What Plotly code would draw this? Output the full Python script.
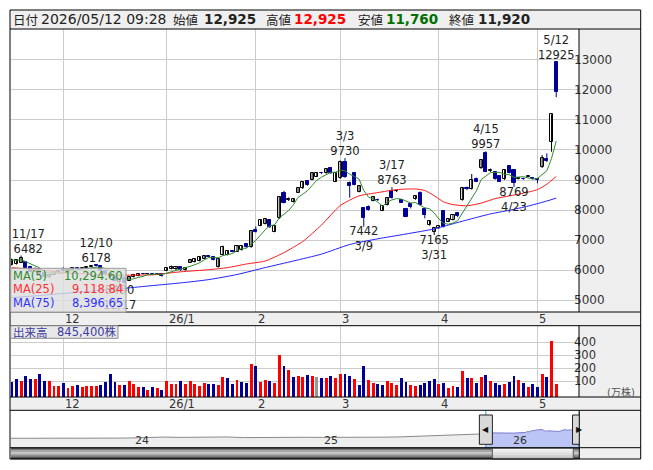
"""
Daily candlestick chart with MA lines, volume and a navigator strip (Plotly).
"""
import numpy as np
import pandas as pd
import plotly.graph_objects as go

# ---------------- data ----------------
trade_days = {
    (2025, 11): [13, 14, 17, 18, 19, 20, 21, 25, 26, 27, 28],
    (2025, 12): [1, 2, 3, 4, 5, 8, 9, 10, 11, 12, 15, 16, 17, 18, 19, 22, 23, 24, 25, 26, 29, 30],
    (2026, 1): [5, 6, 7, 8, 9, 13, 14, 15, 16, 19, 20, 21, 22, 23, 26, 27, 28, 29, 30],
    (2026, 2): [2, 3, 4, 5, 6, 9, 10, 12, 13, 16, 17, 18, 19, 20, 24, 25, 26, 27],
    (2026, 3): [2, 3, 4, 5, 6, 9, 10, 11, 12, 13, 16, 17, 18, 19, 23, 24, 25, 26, 27, 30, 31],
    (2026, 4): [1, 2, 3, 6, 7, 8, 9, 10, 13, 14, 15, 16, 17, 20, 21, 22, 23, 24, 27, 28, 30],
    (2026, 5): [1, 7, 8, 11, 12],
}

opens = [6170, 6200, 6250, 6280, 6100, 5950, 6040, 5900, 5760, 5850,
         5930, 6000, 5960, 6010, 6060, 6020, 6080, 6110, 6170, 6120,
         5980, 5870, 5760, 5600, 5750, 5650, 5770, 5800, 5880, 5860,
         5880, 5850, 5860, 5980, 6030, 6020, 6100, 5990, 6250, 6260,
         6300, 6380, 6460, 6440, 6110, 6500, 6500, 6630, 6610, 6670,
         6860, 6760, 7340, 7470, 7530, 7670, 7280, 7720, 8580, 8350,
         8270, 8580, 8720, 8970, 9000, 9110, 9230, 9220, 9390, 8950,
         9060, 9590, 8890, 9220, 8610, 8060, 8090, 8310, 8350, 7980,
         8170, 8640, 8620, 8330, 8050, 8200, 8360, 8580, 8050, 7500,
         7280, 7390, 7980, 7610, 7670, 7890, 8330, 8720, 8690, 9050,
         9390, 9890, 9300, 9280, 9150, 9020, 9470, 9330, 9040, 9050,
         9110, 9080, 9040, 9445, 9700, 10280, 12925]
highs = [6380, 6360, 6482, 6300, 6130, 6080, 6060, 5920, 5870, 5950,
         6000, 6090, 6030, 6080, 6070, 6100, 6120, 6150, 6178, 6130,
         6000, 5890, 5780, 5720, 5780, 5790, 5870, 5900, 5900, 5900,
         5890, 5880, 5870, 6100, 6150, 6130, 6120, 6080, 6370, 6390,
         6440, 6500, 6490, 6460, 6370, 6810, 6660, 6650, 6830, 6800,
         6880, 7310, 7450, 7690, 7720, 7700, 7480, 8440, 8640, 8420,
         8380, 8740, 8960, 9000, 9260, 9260, 9270, 9390, 9420, 9250,
         9650, 9730, 8950, 9250, 8830, 8100, 8150, 8460, 8380, 8150,
         8400, 8763, 8680, 8350, 8070, 8230, 8490, 8620, 8080, 7660,
         7400, 7480, 8000, 7720, 7850, 7910, 8770, 8780, 9200, 9080,
         9700, 9957, 9380, 9300, 9170, 9350, 9490, 9350, 9100, 9080,
         9160, 9100, 9060, 9833, 9890, 11190, 12925]
lows = [6150, 6180, 6230, 6040, 5920, 5930, 5860, 5750, 5740, 5830,
        5910, 5940, 5950, 6000, 6000, 6010, 6060, 6090, 6120, 5960,
        5850, 5740, 5620, 5490, 5530, 5630, 5750, 5790, 5850, 5850,
        5830, 5840, 5780, 5960, 6020, 6000, 5970, 5980, 6240, 6250,
        6290, 6370, 6430, 6320, 6080, 6490, 6490, 6590, 6600, 6650,
        6740, 6740, 7250, 7460, 7520, 7400, 7260, 7700, 8220, 8300,
        8250, 8570, 8700, 8810, 8990, 9100, 9200, 9210, 9200, 8930,
        9040, 9070, 8410, 8820, 8590, 7442, 7980, 8290, 8300, 7960,
        8150, 8380, 8600, 8230, 7760, 8050, 8340, 8150, 7720, 7480,
        7165, 7370, 7420, 7600, 7650, 7760, 8310, 8660, 8680, 8930,
        9370, 9260, 9270, 9010, 8930, 9000, 9220, 8769, 9020, 9010,
        9100, 9020, 8890, 9400, 9600, 9943, 11760]
closes = [6330, 6320, 6390, 6060, 5950, 6050, 5880, 5780, 5850, 5930,
          5980, 5960, 6010, 6060, 6020, 6080, 6100, 6130, 6140, 5980,
          5870, 5760, 5640, 5700, 5560, 5780, 5850, 5880, 5860, 5880,
          5850, 5860, 5790, 6080, 6100, 6110, 5990, 6060, 6350, 6370,
          6420, 6480, 6450, 6340, 6356, 6780, 6645, 6610, 6810, 6790,
          6760, 7300, 7280, 7670, 7690, 7420, 7470, 8420, 8240, 8370,
          8360, 8720, 8940, 8830, 9240, 9240, 9220, 9370, 9220, 9240,
          9610, 9090, 8800, 8840, 8810, 7720, 8000, 8440, 8330, 8130,
          8390, 8400, 8650, 8250, 7780, 8090, 8470, 8170, 7840, 7640,
          7390, 7460, 7440, 7700, 7830, 7800, 8750, 8700, 9000, 8950,
          9670, 9280, 9330, 9030, 8950, 9330, 9240, 8890, 9060, 9030,
          9130, 9050, 9000, 9720, 9643, 11190, 11920]
# volume in 万株
volumes = [97, 118, 105, 141, 118, 118, 156, 103, 103, 64,
           64, 87, 49, 64, 72, 59, 64, 64, 64, 72,
           95, 156, 95, 72, 72, 103, 79, 59, 56, 33,
           56, 49, 33, 103, 79, 79, 103, 79, 103, 79,
           64, 87, 79, 79, 72, 133, 126, 79, 110, 95,
           87, 233, 218, 95, 110, 103, 87, 303, 218, 187,
           133, 141, 133, 149, 141, 133, 131, 131, 146, 131,
           162, 162, 146, 123, 77, 223, 115, 92, 85, 77,
           108, 92, 77, 131, 100, 77, 69, 77, 92, 108,
           123, 85, 92, 54, 69, 62, 185, 131, 131, 92,
           138, 154, 108, 92, 77, 85, 100, 146, 115, 92,
           62, 85, 62, 162, 138, 415, 84.54]
prev_close = 6400
quote_time = "09:28"

peak_idx = [2, 18, 71, 81, 101, 116]
trough_idx = [23, 75, 90, 107]

ma25_idx = [0, 6, 12, 18, 24, 30, 36, 42, 46, 50, 54, 58, 62, 66, 70, 74,
            78, 82, 86, 88, 90, 92, 94, 97, 100, 103, 106, 109, 112, 114, 116]
ma25_val = [6080, 6000, 5900, 5850, 5830, 5840, 5940, 6010, 6080, 6200, 6300,
            6580, 6950, 7500, 8150, 8470, 8580, 8680, 8700, 8650, 8480, 8270,
            8180, 8140, 8230, 8380, 8470, 8560, 8680, 8860, 9118.84]
ma75_idx = [0, 6, 12, 18, 24, 30, 36, 42, 48, 54, 60, 66, 72, 78, 84, 90,
            94, 98, 102, 106, 110, 114, 116]
ma75_val = [5080, 5150, 5230, 5310, 5390, 5480, 5570, 5680, 5850, 6080, 6300,
            6530, 6850, 7040, 7200, 7370, 7540, 7710, 7870, 7990, 8130, 8300,
            8396.65]

nav_hist_dates = ["2023-05-10", "2023-06-01", "2023-07-01", "2023-08-01", "2023-09-01",
                  "2023-10-01", "2023-11-01", "2023-12-01", "2024-01-01", "2024-02-01",
                  "2024-03-01", "2024-04-01", "2024-05-01", "2024-06-01", "2024-07-01",
                  "2024-08-01", "2024-09-01", "2024-10-01", "2024-11-01", "2024-12-01",
                  "2025-01-01", "2025-02-01", "2025-03-01", "2025-04-01", "2025-05-01",
                  "2025-06-01", "2025-07-01", "2025-08-01", "2025-09-01", "2025-10-01",
                  "2025-11-01"]
nav_hist_vals = [1150, 1100, 1250, 1100, 1200, 1100, 1200, 1300, 1500, 2100,
                 2300, 2000, 2200, 2100, 2400, 1800, 2000, 2100, 2000, 2100,
                 2000, 1900, 2100, 1800, 2200, 2500, 2900, 3300, 3700, 4300,
                 5200]

# ---------------- styling ----------------
# the page body keeps its default 8px margin, so the figure is shifted by that much
PAGE_W, PAGE_H, BODY = 653, 470, 8
W, H = PAGE_W - 2 * BODY, PAGE_H - 2 * BODY
FONT = "DejaVu Sans, Noto Sans CJK JP"
JP = "Noto Sans CJK JP"
NAVY = "#000099"
RED = "#ff0000"
GRID = "#cccccc"
PANEL = "#efefef"
TXT = "#222222"
X0, X1 = -0.15, 120.85
PX_PER_IDX = 568 / (X1 - X0)
VOL_MIN, VOL_MAX = -21, 528
NAV_MIN, NAV_MAX = -7855, 27870


def px(x):
    # screen x (page pixels) -> paper
    return (x - BODY) / W


def py(y):
    # screen y (page pixels) -> paper
    return 1 - (y - BODY) / H


dates = pd.to_datetime([f"{y}-{m:02d}-{d:02d}" for (y, m), ds in trade_days.items() for d in ds])
n = len(dates)
idx = np.arange(n)
o, h, l, c = (np.array(a, dtype=float) for a in (opens, highs, lows, closes))
vol = np.array(volumes, dtype=float)
ma5 = pd.Series(c).rolling(5, min_periods=1).mean()

fig = go.Figure()

# wicks
for mask, col in ((c >= o, "black"), (c < o, NAVY)):
    wx, wy = [], []
    for i in idx[mask]:
        wx += [i, i, None]
        wy += [l[i], h[i], None]
    fig.add_trace(go.Scatter(x=wx, y=wy, mode="lines", line=dict(color=col, width=1),
                             xaxis="x", yaxis="y", hoverinfo="skip"))

# bodies
body_lo = np.minimum(o, c)
body_h = np.maximum(np.abs(c - o), 18)
up = c >= o
fig.add_trace(go.Bar(x=idx[up], y=body_h[up], base=body_lo[up], width=0.66,
                     marker=dict(color="white", line=dict(color="black", width=1)),
                     xaxis="x", yaxis="y"))
fig.add_trace(go.Bar(x=idx[~up], y=body_h[~up], base=body_lo[~up], width=0.66,
                     marker=dict(color=NAVY, line=dict(color=NAVY, width=1)),
                     xaxis="x", yaxis="y"))

# moving averages
fig.add_trace(go.Scatter(x=ma75_idx, y=ma75_val, mode="lines", xaxis="x", yaxis="y",
                         line=dict(color="#2222ff", width=1, shape="spline", smoothing=0.6)))
fig.add_trace(go.Scatter(x=ma25_idx, y=ma25_val, mode="lines", xaxis="x", yaxis="y",
                         line=dict(color="#ff1a1a", width=1, shape="spline", smoothing=0.6)))
fig.add_trace(go.Scatter(x=idx, y=ma5, mode="lines", xaxis="x", yaxis="y",
                         line=dict(color="#2e8b2e", width=1)))


# high / low labels (as text traces so the MA box can cover them)
def lab_x(i, text):
    half = max(len(s) for s in text.split("<br>")) * 6.9 / 2 / PX_PER_IDX
    return min(max(i, X0 + half), X1 - half)


for i in peak_idx:
    t = f"{dates[i].month}/{dates[i].day}<br>{int(h[i])}"
    fig.add_trace(go.Scatter(x=[lab_x(i, t)], y=[h[i]], mode="text", text=[t],
                             textposition="top center", cliponaxis=False,
                             textfont=dict(size=11.5, color=TXT, family=FONT),
                             xaxis="x", yaxis="y"))
for i in trough_idx:
    t = f"{int(l[i])}<br>{dates[i].month}/{dates[i].day}"
    fig.add_trace(go.Scatter(x=[lab_x(i, t)], y=[l[i]], mode="text", text=[t],
                             textposition="bottom center", cliponaxis=False,
                             textfont=dict(size=11.5, color=TXT, family=FONT),
                             xaxis="x", yaxis="y"))

# volume
chg = np.diff(np.r_[prev_close, c])
vcol = np.where(chg > 0, RED, np.where(chg < 0, NAVY, "#999999"))
fig.add_trace(go.Bar(x=idx, y=vol - VOL_MIN, base=VOL_MIN, width=0.62,
                     marker=dict(color=vcol, line=dict(width=0)),
                     xaxis="x2", yaxis="y2"))

# navigator
win_dates = list(dates.strftime("%Y-%m-%d"))
hist_x = nav_hist_dates + win_dates[:1]
hist_y = nav_hist_vals + [closes[0]]
for xs, ys, lc, fc in ((hist_x, hist_y, "#8a8a8a", "#eeeeee"),
                       (win_dates, list(c), "#7b7bd0", "#bcc6f6")):
    fig.add_trace(go.Scatter(x=[xs[0], xs[-1]], y=[NAV_MIN, NAV_MIN], mode="lines",
                             line=dict(width=0), xaxis="x3", yaxis="y3", hoverinfo="skip"))
    fig.add_trace(go.Scatter(x=xs, y=ys, mode="lines", fill="tonexty", fillcolor=fc,
                             line=dict(color=lc, width=1), xaxis="x3", yaxis="y3"))

# ---------------- axes ----------------
month_start = [i for i in range(1, n) if dates[i].month != dates[i - 1].month]
month_text = [f"{dates[i].year % 100}/1" if dates[i].month == 1 else str(dates[i].month)
              for i in month_start]
price_ticks = list(range(5000, 14000, 1000))
xdom = [px(11), px(579)]

fig.update_layout(
    width=W, height=H, autosize=False, margin=dict(l=0, r=0, t=0, b=0),
    paper_bgcolor="white", plot_bgcolor="white", showlegend=False,
    barmode="overlay", bargap=0, hovermode=False,
    font=dict(family=FONT, size=11, color=TXT),
    xaxis=dict(domain=xdom, range=[X0, X1], anchor="y", tickvals=month_start,
               showticklabels=False, ticks="", showgrid=True, gridcolor=GRID,
               zeroline=False, fixedrange=True),
    yaxis=dict(domain=[py(312), py(29)], range=[4600, 14033], anchor="x", side="right",
               tickvals=price_ticks, ticktext=[str(v) for v in price_ticks], ticks="",
               ticklen=0, ticklabelstandoff=-6,
               tickfont=dict(size=12, color="#333333"), showgrid=True, gridcolor=GRID,
               zeroline=False, fixedrange=True),
    xaxis2=dict(domain=xdom, matches="x", anchor="y2", tickvals=month_start,
                showticklabels=False, ticks="", showgrid=True, gridcolor=GRID, zeroline=False),
    yaxis2=dict(domain=[py(397), py(325.7)], range=[VOL_MIN, VOL_MAX], anchor="x2",
                side="right", tickvals=[100, 200, 300, 400], ticks="", ticklen=0,
                ticklabelstandoff=-6,
                tickfont=dict(size=11.5, color="#333333"), showgrid=True, gridcolor=GRID,
                zeroline=False),
    xaxis3=dict(domain=xdom, type="date", range=["2023-05-10", "2026-05-12"], anchor="y3",
                showticklabels=False, showgrid=False, zeroline=False),
    yaxis3=dict(domain=[py(447.7), py(410.3)], range=[NAV_MIN, NAV_MAX], anchor="x3",
                showticklabels=False, showgrid=False, zeroline=False),
)

# ---------------- frame, panels, scrollbar ----------------
shapes = []


def rect(x0, y0, x1, y1, fill, line=None, layer="below", lw=1):
    shapes.append(dict(type="rect", xref="paper", yref="paper", x0=px(x0), x1=px(x1),
                       y0=py(y1), y1=py(y0), fillcolor=fill, layer=layer,
                       line=dict(color=line or "rgba(0,0,0,0)", width=lw if line else 0)))


def hline(y, x0=10, x1=640.7):
    shapes.append(dict(type="line", xref="paper", yref="paper", x0=px(x0), x1=px(x1),
                       y0=py(y), y1=py(y), line=dict(color="black", width=1), layer="above"))


def vline(x, y0, y1, color="black"):
    shapes.append(dict(type="line", xref="paper", yref="paper", x0=px(x), x1=px(x),
                       y0=py(y0), y1=py(y1), line=dict(color=color, width=1), layer="above"))


rect(10, 10, 640.7, 29, PANEL)
rect(579, 29, 640.7, 312, PANEL)
rect(10, 312, 640.7, 325.7, PANEL)
rect(579, 325.7, 640.7, 397, PANEL)
rect(10, 397, 640.7, 410.3, PANEL)
rect(579.3, 410.3, 640.7, 459, PANEL)

# scrollbar track and thumb
track = ["#4a4a4a", "#7c7c7c", "#a9a9a9", "#c9c9c9", "#b6b6b6", "#909090", "#676767", "#3c3c3c"]
step = (459 - 447.7) / len(track)
for k, col in enumerate(track):
    rect(11, 447.7 + k * step, 579.3, 447.7 + (k + 1) * step + 0.3, col, layer="above")
thumb = ["#f6f6f6", "#ececec", "#e0e0e0", "#d2d2d2", "#c2c2c2"]
tstep = (459 - 448.2) / len(thumb)
for k, col in enumerate(thumb):
    rect(492.3, 448.2 + k * tstep, 573.3, 448.2 + (k + 1) * tstep + 0.3, col, layer="above")
rect(492.3, 448.2, 573.3, 459, "rgba(0,0,0,0)", line="#555555", layer="above")

# navigator window markers and handles
for d in (win_dates[0], win_dates[-1]):
    shapes.append(dict(type="line", xref="x3", yref="paper", x0=d, x1=d, y0=py(447.7),
                       y1=py(410.3), line=dict(color="#2a9fd6", width=1), layer="above"))
    shapes.append(dict(type="rect", xref="x3", yref="paper", xsizemode="pixel", xanchor=d,
                       x0=-6.5, x1=6.5, y0=py(444.3), y1=py(415), fillcolor="#d9d9d9",
                       line=dict(color="#222222", width=1), layer="above"))

for y in (29, 312, 325.7, 397, 410.3, 447.7):
    hline(y)
vline(579, 29, 312)
vline(579, 325.7, 397)
vline(579.3, 410.3, 459)
shapes.append(dict(type="rect", xref="paper", yref="paper", x0=px(10), x1=px(640.7),
                   y0=py(459), y1=py(10), line=dict(color="black", width=1), layer="above"))

# MA value box and volume caption box
rect(10.7, 268.3, 126, 312.3, "rgba(222,222,222,0.82)", line="#9a9a9a", layer="above")
rect(10.7, 325.7, 118, 338.3, "rgba(228,228,228,0.85)", line="#8a8a8a", layer="above")
fig.update_layout(shapes=shapes)

# ---------------- text ----------------
ann = []


def note(x, y, text, size=11.5, color=TXT, family=FONT, xanchor="left", **kw):
    ann.append(dict(xref="paper", yref="paper", x=px(x), y=py(y), text=text, showarrow=False,
                    xanchor=xanchor, yanchor="middle", font=dict(size=size, color=color,
                                                                  family=family), **kw))


# header
last = n - 1
note(11, 19.3, "日付", size=12.5, family=JP)
note(39, 19.3, f"{dates[last]:%Y/%m/%d} {quote_time}", size=14)
note(171, 19.3, "始値", size=12.5, family=JP)
note(202, 19.3, f"<b>{int(o[last]):,}</b>", size=13.5)
note(264, 19.3, "高値", size=12.5, family=JP)
note(292, 19.3, f"<b>{int(h[last]):,}</b>", size=13.5, color=RED)
note(356, 19.3, "安値", size=12.5, family=JP)
note(384, 19.3, f"<b>{int(l[last]):,}</b>", size=13.5, color="#007000")
note(447, 19.3, "終値", size=12.5, family=JP)
note(476, 19.3, f"<b>{int(c[last]):,}</b>", size=13.5)

# MA legend
for k, (name, val, col) in enumerate((("MA(5)", ma5.iloc[-1], "#2e8b2e"),
                                      ("MA(25)", ma25_val[-1], "#ff3030"),
                                      ("MA(75)", ma75_val[-1], "#3333ff"))):
    yy = 276 + k * 13.35
    note(11, yy, name, color=col)
    note(125, yy, f"{val:,.2f}", color=col, xanchor="right")

# volume caption and unit
note(11, 332, "出来高", color="#3c3ca0", family=JP)
note(55, 332, f"{int(round(vol[-1] * 10000)):,}株", color="#3c3ca0")
note(637, 391.5, "(万株)", size=10, color="#555555", xanchor="right")

# month labels in both strips
for i, t in zip(month_start, month_text):
    for yy in (318.7, 403.6):
        ann.append(dict(xref="x", yref="paper", x=i, y=py(yy), text=t, showarrow=False,
                        xanchor="left", yanchor="middle", xshift=0,
                        font=dict(size=11.5, color="#333333", family=FONT)))

# navigator year labels and handle arrows
for yr in (2024, 2025, 2026):
    ann.append(dict(xref="x3", yref="paper", x=f"{yr}-01-01", y=py(440.7), text=str(yr % 100),
                    showarrow=False, xanchor="left", yanchor="middle", xshift=0,
                    font=dict(size=11, color="#333333", family=FONT)))
for d, arrow in ((win_dates[0], "◀"), (win_dates[-1], "▶")):
    ann.append(dict(xref="x3", yref="paper", x=d, y=py(429.7), text=arrow, showarrow=False,
                    xanchor="center", yanchor="middle",
                    font=dict(size=8, color="#111111", family="DejaVu Sans")))

fig.update_layout(annotations=ann)

fig.write_html("out.html", config={"displayModeBar": False})
